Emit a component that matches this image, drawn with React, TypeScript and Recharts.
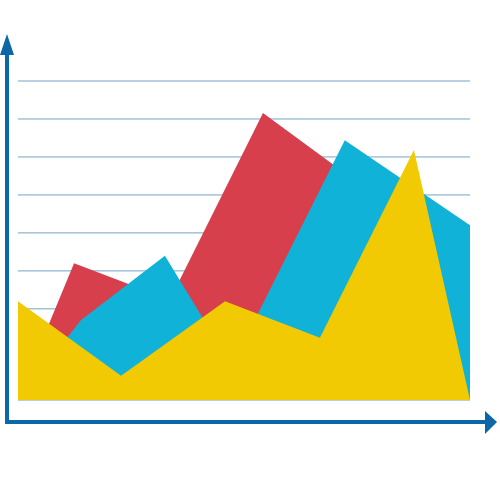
import { Area, CartesianGrid, ComposedChart, XAxis, YAxis } from "recharts";

// values, x on a 0..100 scale
const redX = [4.9, 12.4, 33.6, 54.2, 82.3];
const redY = [7.2, 18.0, 13.2, 37.8, 25.5];

const blueX = [8.8, 13.9, 32.5, 47.3, 72.3, 100];
const blueY = [6.6, 10.5, 19.0, 4.5, 34.2, 23.0];

const yellowX = [0, 22.8, 45.8, 66.8, 87.6, 100];
const yellowY = [13.0, 3.2, 13.0, 8.2, 32.9, 0];

const gridTicks = [12, 17, 22, 27, 32, 37, 42];

type Row = { x: number; red?: number; blue?: number; yellow?: number };

const rows: Row[] = [
  ...redX.map((x, i) => ({ x, red: redY[i] })),
  ...blueX.map((x, i) => ({ x, blue: blueY[i] })),
  ...yellowX.map((x, i) => ({ x, yellow: yellowY[i] })),
].sort((a, b) => a.x - b.x);

const AXIS = "#0b67a8";

export default function App() {
  return (
    <div style={{ position: "absolute", left: 0, top: 0, width: 500, height: 500, background: "#fff" }}>
      <ComposedChart width={500} height={500} data={rows} margin={{ top: 81, right: 30, bottom: 100, left: 18 }}>
        <CartesianGrid vertical={false} stroke="#74a2c6" strokeWidth={1} />
        <XAxis dataKey="x" type="number" domain={[0, 100]} hide />
        <YAxis type="number" domain={[0, 42]} ticks={gridTicks} hide />
        <Area type="linear" dataKey="red" fill="#d83f4d" fillOpacity={1} stroke="none" connectNulls isAnimationActive={false} />
        <Area type="linear" dataKey="blue" fill="#10b2d8" fillOpacity={1} stroke="none" connectNulls isAnimationActive={false} />
        <Area type="linear" dataKey="yellow" fill="#f1ca03" fillOpacity={1} stroke="none" connectNulls isAnimationActive={false} />
      </ComposedChart>
      <svg width={500} height={500} style={{ position: "absolute", left: 0, top: 0, pointerEvents: "none" }}>
        <line x1={7} y1={50} x2={7} y2={424} stroke={AXIS} strokeWidth={4} />
        <polygon points="0,55 14,55 7,34" fill={AXIS} />
        <line x1={5} y1={422} x2={488} y2={422} stroke={AXIS} strokeWidth={4} />
        <polygon points="485,411 485,434 497,422" fill={AXIS} />
      </svg>
    </div>
  );
}
